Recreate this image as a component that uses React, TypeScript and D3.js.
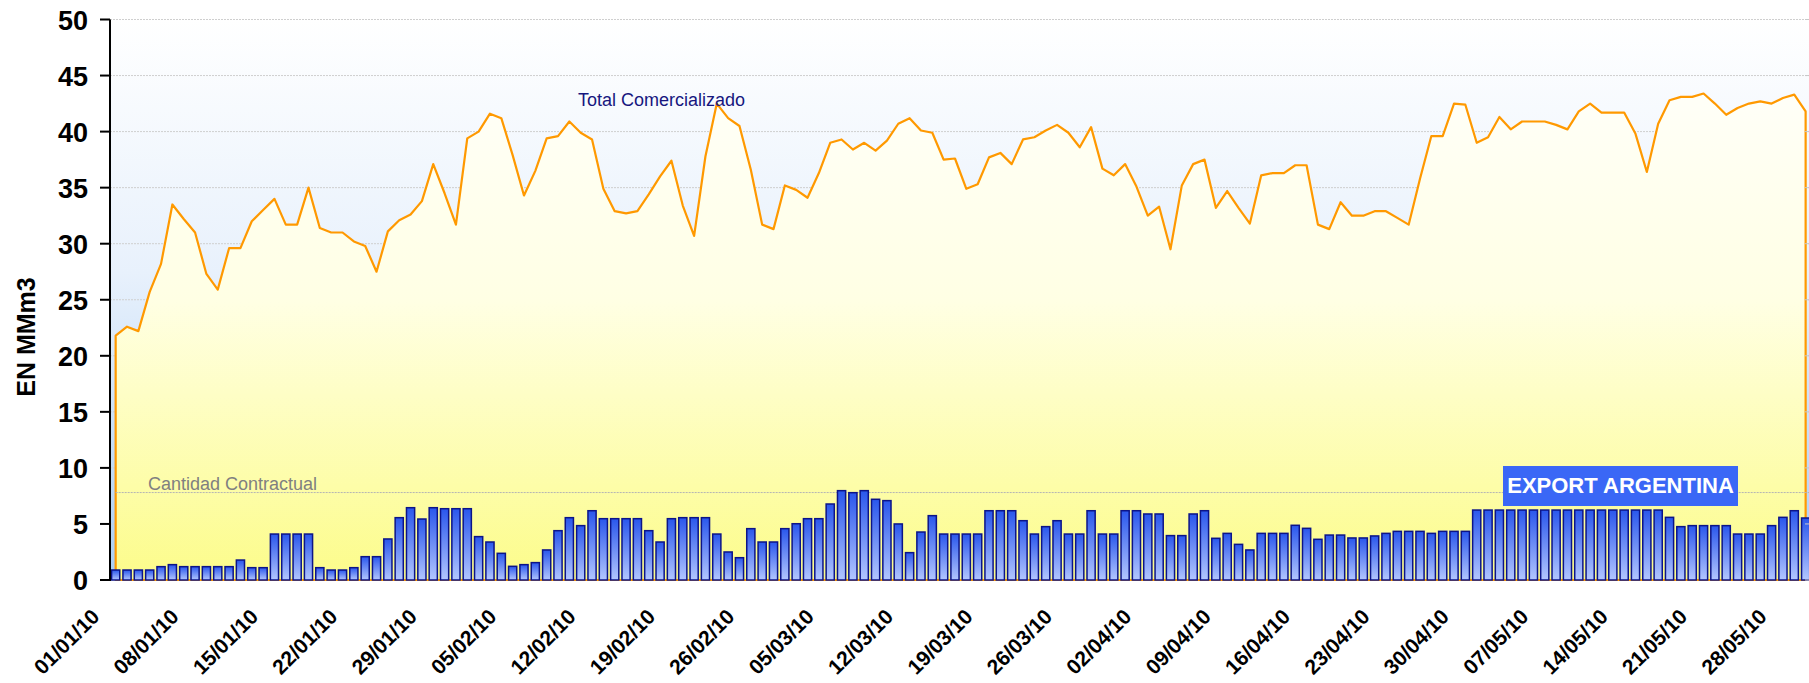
import React from "react";
import * as d3 from "d3";

// daily dates 01/01/10 .. 30/05/10
const days = d3.timeDay.range(new Date(2010, 0, 1), new Date(2010, 4, 31));

// Total Comercializado (MMm3)
const totalComercializado = [
  21.8, 22.6, 22.2, 25.7, 28.2, 33.5, 32.2, 31.0, 27.3, 25.9,
  29.6, 29.6, 32.0, 33.0, 34.0, 31.7, 31.7, 35.0, 31.4, 31.0,
  31.0, 30.2, 29.8, 27.5, 31.1, 32.1, 32.6, 33.8, 37.1, 34.5,
  31.7, 39.4, 40.0, 41.6, 41.2, 37.9, 34.3, 36.5, 39.4, 39.6,
  40.9, 39.9, 39.3, 34.9, 32.9, 32.7, 32.9, 34.4, 36.0, 37.4,
  33.4, 30.7, 37.8, 42.5, 41.2, 40.5, 36.6, 31.7, 31.3, 35.2,
  34.8, 34.1, 36.3, 39.0, 39.3, 38.4, 39.0, 38.3, 39.2, 40.7,
  41.2, 40.1, 39.9, 37.5, 37.6, 34.9, 35.3, 37.7, 38.1, 37.1,
  39.3, 39.5, 40.1, 40.6, 39.9, 38.6, 40.4, 36.7, 36.1, 37.1,
  35.1, 32.5, 33.3, 29.5, 35.2, 37.1, 37.5, 33.2, 34.7, 33.2,
  31.8, 36.1, 36.3, 36.3, 37.0, 37.0, 31.7, 31.3, 33.7, 32.5,
  32.5, 32.9, 32.9, 32.3, 31.7, 35.8, 39.6, 39.6, 42.5, 42.4,
  39.0, 39.5, 41.3, 40.2, 40.9, 40.9, 40.9, 40.6, 40.2, 41.8,
  42.5, 41.7, 41.7, 41.7, 39.8, 36.4, 40.7, 42.8, 43.1, 43.1,
  43.4, 42.5, 41.5, 42.1, 42.5, 42.7, 42.5, 43.0, 43.3, 41.8,
];

// EXPORT ARGENTINA (MMm3)
const exportArgentina = [
  0.89, 0.89, 0.89, 0.89, 1.19, 1.37, 1.19, 1.19, 1.19, 1.19,
  1.19, 1.78, 1.1, 1.1, 4.1, 4.1, 4.1, 4.1, 1.1, 0.89,
  0.89, 1.1, 2.08, 2.08, 3.66, 5.56, 6.45, 5.44, 6.45, 6.36,
  6.36, 6.36, 3.87, 3.39, 2.38, 1.22, 1.37, 1.55, 2.68, 4.4,
  5.56, 4.85, 6.18, 5.47, 5.47, 5.47, 5.47, 4.4, 3.39, 5.47,
  5.56, 5.56, 5.56, 4.1, 2.5, 1.99, 4.58, 3.39, 3.39, 4.58,
  5.02, 5.47, 5.47, 6.78, 7.97, 7.79, 7.97, 7.2, 7.08, 5.0,
  2.44, 4.28, 5.74, 4.1, 4.1, 4.1, 4.1, 6.18, 6.18, 6.18,
  5.29, 4.1, 4.76, 5.29, 4.1, 4.1, 6.18, 4.1, 4.1, 6.18,
  6.18, 5.89, 5.89, 3.96, 3.96, 5.89, 6.18, 3.72, 4.16, 3.18,
  2.68, 4.16, 4.16, 4.16, 4.88, 4.61, 3.63, 4.01, 4.01, 3.75,
  3.75, 3.93, 4.16, 4.34, 4.34, 4.34, 4.16, 4.34, 4.34, 4.34,
  6.24, 6.24, 6.24, 6.24, 6.24, 6.24, 6.24, 6.24, 6.24, 6.24,
  6.24, 6.24, 6.24, 6.24, 6.24, 6.24, 6.24, 5.59, 4.76, 4.85,
  4.85, 4.85, 4.85, 4.1, 4.1, 4.1, 4.85, 5.59, 6.18, 5.53,
];

const cantidadContractual = 7.8;
const yTicks = [0, 5, 10, 15, 20, 25, 30, 35, 40, 45, 50];
const fmt = d3.timeFormat("%d/%m/%y");

const W = 1809;
const H = 683;
const FONT = "'Liberation Sans', Arial, Helvetica, sans-serif";

export default function App() {
  const left = 110;
  const top = 19.5;
  const bottom = 580;
  const right = 1809;

  const keys = days.map((d) => fmt(d));
  const x = d3
    .scaleBand<string>()
    .domain(keys)
    .range([left, left + 150 * 11.342])
    .paddingInner(0.28)
    .paddingOuter(0.14);
  const y = d3.scaleLinear().domain([0, 50]).range([bottom, top]);
  const cx = (i: number) => (x(keys[i]) as number) + x.bandwidth() / 2;

  const area = d3
    .area<number>()
    .x((d, i) => cx(i))
    .y0(y(0))
    .y1((d) => y(d));

  const tickIdx = keys.map((k, i) => i).filter((i) => i % 7 === 0);

  return (
    <svg
      width={W}
      height={H}
      style={{ position: "absolute", left: 0, top: 0, background: "#fff" }}
      fontFamily={FONT}
    >
      <defs>
        <linearGradient id="bgGrad" x1="0" y1="0" x2="0" y2="1">
          <stop offset="0" stopColor="#ffffff" />
          <stop offset="0.45" stopColor="#e8f1fc" />
          <stop offset="1" stopColor="#a9cdf4" />
        </linearGradient>
        <linearGradient id="areaGrad" gradientUnits="userSpaceOnUse" x1="0" y1={top} x2="0" y2={bottom}>
          <stop offset="0" stopColor="#ffffff" />
          <stop offset="0.5" stopColor="#ffffe4" />
          <stop offset="1" stopColor="#fcfc8a" />
        </linearGradient>
        <linearGradient id="barGrad" x1="0" y1="0" x2="0" y2="1">
          <stop offset="0" stopColor="#2a57ec" />
          <stop offset="1" stopColor="#b2c6ff" />
        </linearGradient>
      </defs>

      <rect x={left} y={top} width={right - left} height={bottom - top} fill="url(#bgGrad)" />

      {yTicks.filter((t) => t > 0).map((t) => (
        <line
          key={"g" + t}
          x1={left}
          x2={right}
          y1={y(t)}
          y2={y(t)}
          stroke="#cfcfcf"
          strokeWidth={1}
          strokeDasharray="2,1"
        />
      ))}

      <path
        d={area(totalComercializado) + "Z"}
        fill="url(#areaGrad)"
        stroke="#ff9900"
        strokeWidth={2.2}
        strokeLinejoin="round"
      />

      <line
        x1={cx(0)}
        x2={right}
        y1={y(cantidadContractual)}
        y2={y(cantidadContractual)}
        stroke="#b4b4b4"
        strokeWidth={1}
        strokeDasharray="2,1"
      />
      <text x={148} y={y(cantidadContractual) - 3} fontSize={18} fill="#808080">
        Cantidad Contractual
      </text>

      {exportArgentina.map((v, i) => (
        <rect
          key={"b" + i}
          x={x(keys[i])}
          y={y(v)}
          width={x.bandwidth()}
          height={y(0) - y(v)}
          fill="url(#barGrad)"
          stroke="#0c1488"
          strokeWidth={1.5}
        />
      ))}

      <text x={578} y={106} fontSize={18} fill="#16167e">
        Total Comercializado
      </text>

      <rect x={1503} y={466} width={235} height={40} fill="#3a67f6" />
      <text x={1620.5} y={493} fontSize={22} fontWeight="bold" fill="#ffffff" textAnchor="middle">
        EXPORT ARGENTINA
      </text>

      {/* right side ticks */}
      {yTicks.map((t) => (
        <line key={"r" + t} x1={right - 4} x2={right} y1={y(t)} y2={y(t)} stroke="#c8c8c8" strokeWidth={1} />
      ))}

      {/* y axis */}
      <line x1={left} x2={left} y1={top} y2={bottom + 1} stroke="#000" strokeWidth={2} />
      {yTicks.map((t) => (
        <g key={"t" + t}>
          <line x1={left - 10} x2={left} y1={y(t)} y2={y(t)} stroke="#000" strokeWidth={2} />
          <text x={88} y={y(t) + 10} fontSize={27} fontWeight="bold" textAnchor="end" fill="#000">
            {t}
          </text>
        </g>
      ))}
      <text
        transform={`translate(35, 337) rotate(-90)`}
        fontSize={25}
        fontWeight="bold"
        textAnchor="middle"
        fill="#000"
      >
        EN MMm3
      </text>

      {/* x tick labels */}
      {tickIdx.map((i) => (
        <text
          key={"x" + i}
          transform={`translate(${cx(i) - 15}, 618) rotate(-45)`}
          fontSize={21}
          fontWeight="bold"
          textAnchor="end"
          fill="#000"
        >
          {keys[i]}
        </text>
      ))}
    </svg>
  );
}
